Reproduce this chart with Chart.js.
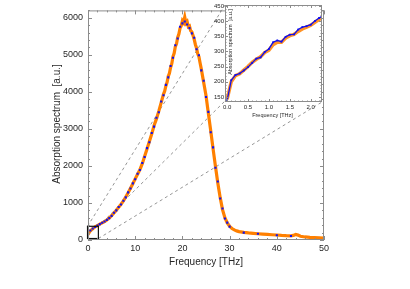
<!DOCTYPE html>
<html>
<head>
<meta charset="utf-8">
<script src="https://cdn.jsdelivr.net/npm/chart.js@4.4.0/dist/chart.umd.min.js"></script>
<style>
  html, body { margin: 0; padding: 0; background: #fff; }
  #wrap { position: relative; width: 410px; height: 289px; }
  #main { position: absolute; left: 0; top: 0; }
  #inset { position: absolute; left: 195px; top: 0; }
</style>
</head>
<body>
<div id="wrap">
  <canvas id="main" width="410" height="289"></canvas>
  <canvas id="inset" width="135" height="125"></canvas>
</div>
<script>
/* ==========================
   DATA
========================== */
const orangeFreq = [0, 0.5, 1, 1.5, 2, 2.5, 3, 3.5, 4, 4.5, 5, 5.5, 6, 6.5, 7, 7.5, 8, 8.5, 9, 9.5,
  10, 10.5, 11, 11.5, 12, 12.5, 13, 13.5, 14, 14.5, 15, 15.5, 16, 16.25, 16.5, 16.75, 17, 17.25, 17.5, 17.75,
  18, 18.25, 18.5, 18.75, 19, 19.25, 19.5, 19.75, 20, 20.25, 20.5, 20.75, 21, 21.25, 21.5, 21.75,
  22, 22.25, 22.5, 22.75, 23, 23.25, 23.5, 23.75, 24, 24.5, 25, 25.5, 26, 26.5, 27, 27.5, 28, 28.5,
  29, 29.5, 30, 30.5, 31, 31.5, 32, 33, 34, 35, 36, 37, 38, 39, 40, 41, 42, 43, 43.5, 44, 44.5, 45,
  46, 47, 48, 49, 50];
const orangeAbs = [150, 250, 305, 355, 390, 430, 462, 498, 540, 592, 655, 728, 805, 885, 965, 1055, 1160, 1275, 1395, 1520,
  1650, 1775, 1900, 2060, 2260, 2460, 2660, 2860, 3090, 3270, 3480, 3710, 3940, 4020, 4160, 4260, 4420, 4500, 4660, 4760,
  4950, 5040, 5220, 5300, 5470, 5560, 5720, 5780, 5920, 5870, 6020, 5860, 5900, 5760, 5780, 5650,
  5620, 5520, 5420, 5280, 5180, 5030, 4950, 4780, 4620, 4260, 3900, 3420, 2950, 2460, 1990, 1540, 1150, 820,
  600, 460, 370, 310, 272, 246, 226, 205, 190, 178, 168, 158, 150, 142, 135, 124, 116, 114, 124, 150, 132, 102,
  82, 70, 62, 55, 48];

const blueFreq = [0, 0.5, 1, 1.5, 2, 2.5, 3, 3.5, 4, 4.5, 5, 5.5, 6, 6.5, 7, 7.5, 8, 8.5, 9, 9.5,
  10, 10.5, 11, 11.5, 12, 12.5, 13, 13.5, 14, 14.5, 15, 15.5, 16, 16.5, 17, 17.5, 18, 18.5, 19, 19.5,
  20, 20.5, 21, 21.5, 22, 22.5, 23, 23.5, 24, 24.5, 25, 25.5, 26, 26.5, 27, 27.5, 28, 28.5, 29, 29.5,
  30, 33, 36, 40, 43];
const blueAbs = [140, 255, 310, 350, 392, 428, 465, 500, 545, 590, 650, 735, 800, 890, 960, 1060, 1150, 1285, 1390, 1530,
  1640, 1790, 1890, 2080, 2240, 2480, 2640, 2890, 3060, 3300, 3450, 3740, 3910, 4190, 4390, 4700, 4920, 5260, 5440, 5760,
  5850, 5900, 5820, 5720, 5580, 5460, 5150, 4990, 4580, 4300, 3860, 3460, 2910, 2500, 1950, 1580, 1120, 850, 580, 470,
  360, 200, 170, 128, 108];

// low-frequency zoom (inset)
const insetFreq = [0, 0.1, 0.2, 0.3, 0.4, 0.5, 0.6, 0.7, 0.8, 0.9, 1.0, 1.1, 1.2, 1.3, 1.4, 1.5, 1.6, 1.7, 1.8, 1.9,
  2.0, 2.1, 2.2, 2.3];
const insetBlue = [138, 205, 222, 227, 237, 248, 262, 276, 280, 298, 308, 330, 336, 332, 348, 355, 356, 372, 380, 383,
  388, 400, 410, 418];
const insetOrange = [142, 200, 220, 226, 238, 250, 264, 274, 282, 296, 304, 322, 330, 330, 344, 352, 356, 366, 374, 380,
  386, 396, 405, 412];

const mainXTicks = [0, 10, 20, 30, 40, 50];
const mainYTicks = [0, 1000, 2000, 3000, 4000, 5000, 6000];
const insetXTicks = [0, 0.5, 1.0, 1.5, 2.0];
const insetYTicks = [150, 200, 250, 300, 350, 400, 450];

// region of the main plot shown in the inset
const zoomBoxX = [-0.1, 2.2];
const zoomBoxY = [40, 370];

/* ==========================
   STYLE
========================== */
const ORANGE = "#ff8000";
const BLUE = "#1010f0";
const FRAME = "#8c8c8c";
const TEXT = "#262626";
const INSET_LEFT = 195, INSET_TOP = 0;

Chart.defaults.font.family = "'Liberation Sans', Arial, sans-serif";
Chart.defaults.color = TEXT;

const pts = (xs, ys) => xs.map((x, i) => ({ x: x, y: ys[i] }));

/* ==========================
   PLUGINS
========================== */
// frame with inward ticks on all four sides
const frameTicks = {
    id: "frameTicks",
    afterDatasetsDraw(chart, args, o) {
        const { ctx, chartArea: a, scales: { x, y } } = chart;
        const isMajor = (v, step) => Math.abs(v / step - Math.round(v / step)) < 1e-6;
        ctx.save();
        ctx.strokeStyle = FRAME;
        ctx.lineWidth = 1;
        ctx.strokeRect(a.left + 0.5, a.top + 0.5, a.right - a.left - 1, a.bottom - a.top - 1);
        ctx.beginPath();
        for (let i = Math.ceil(x.min / o.xMinor - 1e-9); i * o.xMinor <= x.max + 1e-9; i++) {
            const v = i * o.xMinor;
            const len = isMajor(v, o.xMajor) ? o.majorLen : o.minorLen;
            const px = Math.round(x.getPixelForValue(v)) + 0.5;
            ctx.moveTo(px, a.bottom); ctx.lineTo(px, a.bottom - len);
            ctx.moveTo(px, a.top); ctx.lineTo(px, a.top + len);
        }
        for (let i = Math.ceil(y.min / o.yMinor - 1e-9); i * o.yMinor <= y.max + 1e-9; i++) {
            const v = i * o.yMinor;
            const len = isMajor(v, o.yMajor) ? o.majorLen : o.minorLen;
            const py = Math.round(y.getPixelForValue(v)) + 0.5;
            ctx.moveTo(a.left, py); ctx.lineTo(a.left + len, py);
            ctx.moveTo(a.right, py); ctx.lineTo(a.right - len, py);
        }
        ctx.stroke();
        ctx.restore();
    }
};

// white background behind the inset plot area
const insetBg = {
    id: "insetBg",
    beforeDatasetsDraw(chart) {
        const { ctx, chartArea: a } = chart;
        ctx.save();
        ctx.fillStyle = "#fff";
        ctx.fillRect(a.left, a.top, a.right - a.left, a.bottom - a.top);
        ctx.restore();
    }
};

// axis titles drawn at fixed spots
const axisTitles = {
    id: "axisTitles",
    afterDraw(chart, args, o) {
        const { ctx } = chart;
        ctx.save();
        ctx.fillStyle = TEXT;
        ctx.font = o.size + "px 'Liberation Sans', Arial, sans-serif";
        ctx.textAlign = "center";
        ctx.textBaseline = "middle";
        ctx.fillText(o.xTitle, o.xPos[0], o.xPos[1]);
        ctx.translate(o.yPos[0], o.yPos[1]);
        ctx.rotate(-Math.PI / 2);
        ctx.fillText(o.yTitle, 0, 0);
        ctx.restore();
    }
};

let insetChart;

// zoom box + dashed connectors to the inset corners
const zoomLinks = {
    id: "zoomLinks",
    beforeDatasetsDraw(chart) {
        const { ctx, scales: { x, y } } = chart;
        const ia = insetChart.chartArea;
        const bl = x.getPixelForValue(zoomBoxX[0]), br = x.getPixelForValue(zoomBoxX[1]);
        const bt = y.getPixelForValue(zoomBoxY[1]), bb = y.getPixelForValue(zoomBoxY[0]);
        const il = INSET_LEFT + ia.left, ir = INSET_LEFT + ia.right;
        const it = INSET_TOP + ia.top, ib = INSET_TOP + ia.bottom;
        ctx.save();
        ctx.strokeStyle = "#8a8a8a";
        ctx.lineWidth = 0.9;
        ctx.setLineDash([3, 3]);
        ctx.beginPath();
        ctx.moveTo(bl, bt); ctx.lineTo(il, it);
        ctx.moveTo(br, bt); ctx.lineTo(ir, it);
        ctx.moveTo(br, bb); ctx.lineTo(ir, ib);
        ctx.stroke();
        ctx.restore();
    },
    afterDatasetsDraw(chart) {
        const { ctx, scales: { x, y } } = chart;
        const bl = x.getPixelForValue(zoomBoxX[0]), br = x.getPixelForValue(zoomBoxX[1]);
        const bt = y.getPixelForValue(zoomBoxY[1]), bb = y.getPixelForValue(zoomBoxY[0]);
        ctx.save();
        ctx.strokeStyle = "#111";
        ctx.lineWidth = 1.2;
        ctx.strokeRect(bl, bt, br - bl, bb - bt);
        ctx.restore();
    }
};

/* ==========================
   INSET
========================== */
insetChart = new Chart(document.getElementById("inset"), {
    type: "scatter",
    data: {
        datasets: [{
            data: pts(insetFreq, insetBlue),
            showLine: true,
            borderColor: BLUE,
            borderWidth: 1.3,
            pointStyle: "rect",
            pointRadius: 1.3,
            pointBackgroundColor: BLUE,
            pointBorderWidth: 0,
            order: 0
        }, {
            data: pts(insetFreq, insetOrange),
            showLine: true,
            borderColor: "rgba(255,128,0,0.85)",
            borderWidth: 3.5,
            pointRadius: 0,
            order: 1
        }]
    },
    options: {
        responsive: false,
        animation: false,
        layout: { padding: { left: 0, right: 8, top: 5, bottom: 0 } },
        plugins: {
            legend: { display: false },
            tooltip: { enabled: false },
            frameTicks: { xMajor: 0.5, xMinor: 0.1, yMajor: 50, yMinor: 10, majorLen: 3, minorLen: 1.5 },
            axisTitles: {
                size: 5.5,
                xTitle: "Frequency [THz]", xPos: [77.5, 115],
                yTitle: "Absorption spectrum  [a.u.]", yPos: [35, 42]
            }
        },
        scales: {
            x: {
                type: "linear", min: -0.05, max: 2.27,
                grid: { display: false, drawTicks: false }, border: { display: false },
                afterBuildTicks: s => { s.ticks = insetXTicks.map(v => ({ value: v })); },
                afterFit: s => { s.height = 23; },
                ticks: { font: { size: 6 }, padding: 2, maxRotation: 0, autoSkip: false,
                    callback: v => Number(v).toFixed(1) }
            },
            y: {
                type: "linear", min: 133, max: 453,
                grid: { display: false, drawTicks: false }, border: { display: false },
                afterBuildTicks: s => { s.ticks = insetYTicks.map(v => ({ value: v })); },
                afterFit: s => { s.width = 30; },
                ticks: { font: { size: 6 }, padding: 1, autoSkip: false, callback: v => String(v) }
            }
        }
    },
    plugins: [insetBg, frameTicks, axisTitles]
});

/* ==========================
   MAIN
========================== */
new Chart(document.getElementById("main"), {
    type: "scatter",
    data: {
        datasets: [{
            data: pts(blueFreq, blueAbs),
            showLine: false,
            pointStyle: "rect",
            pointRadius: 1.5,
            pointBackgroundColor: BLUE,
            pointBorderWidth: 0,
            order: 0
        }, {
            data: pts(orangeFreq, orangeAbs),
            showLine: true,
            borderColor: ORANGE,
            borderWidth: 3.2,
            pointRadius: 0,
            order: 1
        }]
    },
    options: {
        responsive: false,
        animation: false,
        layout: { padding: { left: 0, right: 86, top: 3, bottom: 0 } },
        plugins: {
            legend: { display: false },
            tooltip: { enabled: false },
            frameTicks: { xMajor: 10, xMinor: 2, yMajor: 1000, yMinor: 200, majorLen: 4, minorLen: 2 },
            axisTitles: {
                size: 10,
                xTitle: "Frequency [THz]", xPos: [206, 262],
                yTitle: "Absorption spectrum  [a.u.]", yPos: [57, 124]
            }
        },
        scales: {
            x: {
                type: "linear", min: 0, max: 50,
                grid: { display: false, drawTicks: false }, border: { display: false },
                afterBuildTicks: s => { s.ticks = mainXTicks.map(v => ({ value: v })); },
                afterFit: s => { s.height = 49; },
                ticks: { font: { size: 9 }, padding: 3, maxRotation: 0, autoSkip: false, callback: v => String(v) }
            },
            y: {
                type: "linear", min: 0, max: 6200,
                grid: { display: false, drawTicks: false }, border: { display: false },
                afterBuildTicks: s => { s.ticks = mainYTicks.map(v => ({ value: v })); },
                afterFit: s => { s.width = 88; },
                ticks: { font: { size: 9 }, padding: 5, autoSkip: false, callback: v => String(v) }
            }
        }
    },
    plugins: [zoomLinks, frameTicks, axisTitles]
});
</script>
</body>
</html>
